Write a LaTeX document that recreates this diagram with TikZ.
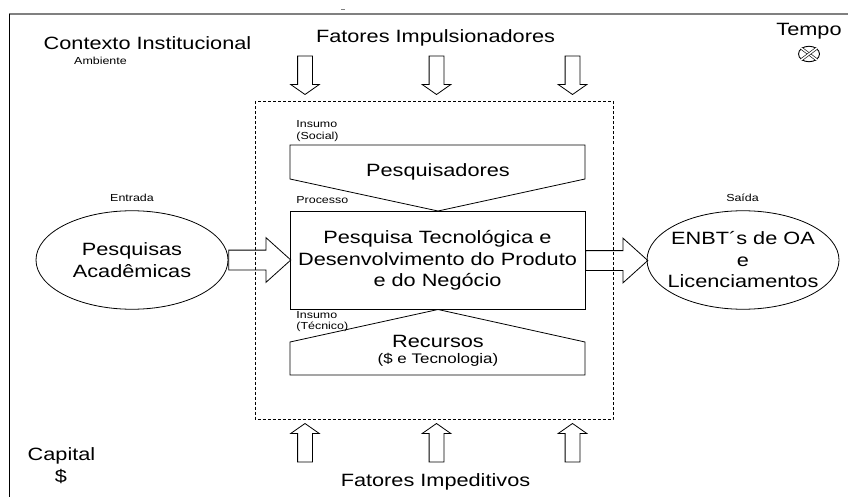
\documentclass[tikz,border=0pt]{standalone}
\usepackage{fontspec}
\setmainfont[FakeStretch=1.22]{Liberation Sans}
\usetikzlibrary{shapes.geometric}
\usetikzlibrary{shapes.arrows}
\newcommand{\bigfont}{\fontsize{17.8}{21.5}\selectfont}
\newcommand{\smallfont}{\fontsize{10.2}{11.8}\selectfont}
\begin{document}
\begin{tikzpicture}[x=1pt,y=-1pt,line width=0.8pt,
    big text/.style={font=\bigfont,align=center,inner sep=0pt},
    small text/.style={font=\smallfont,align=left,inner sep=0pt},
    main ellipse/.style={ellipse,draw,minimum width=192pt,minimum height=98.5pt,inner sep=0pt},
    main box/.style={draw,minimum width=295pt,minimum height=98.5pt,inner sep=0pt},
    thin arrow/.style={single arrow,draw,anchor=tip,inner xsep=0pt,inner ysep=7pt,minimum height=38.5pt,
      single arrow head extend=7pt,single arrow tip angle=110},
    wide arrow/.style={single arrow,draw,anchor=tail,inner xsep=0pt,inner ysep=9.5pt,minimum height=62pt,
      single arrow head extend=12.5pt,single arrow tip angle=84},
    time cross/.style={line width=0.6pt,double,double distance=1.6pt}]
    \useasboundingbox (0,0) rectangle (848,497);
    % frame
    \draw[gray,line width=1.3pt] (9,14) -- (848,14);
    \draw (9.5,14) -- (9.5,497);
    \draw[gray] (341,9) -- (345,9);
    \draw[densely dashed] (255,101.5) rectangle (613,419);

    \node[main box] (proc) at (437.5,260.5) {};
    \node[main ellipse] (ent) at (132,260) {};
    \node[main ellipse] (sai) at (743,260) {};
    \draw (290,145) -- (585,145) -- (585,179) -- (438,211) -- (290,179) -- cycle;
    \draw (290,375) -- (585,375) -- (585,342) -- (438,309.5) -- (290,342) -- cycle;

    \node[big text] (pesq) at (438,172) {Pesquisadores};
    \node[big text] (rec) at (438,341) {Recursos};
    \node[small text,font=\fontsize{13.9}{15}\selectfont] (tec) at (438,360) {(\$ e Tecnologia)};
    \node[big text] (ptext) at (proc) {Pesquisa Tecnológica e\\Desenvolvimento do Produto\\e do Negócio};
    \node[big text] (etext) at (ent) {Pesquisas\\Acadêmicas};
    \node[big text] (stext) at (sai) {ENBT´s de OA\\e\\Licenciamentos};

    \node[wide arrow] (a1) at (ent.east) {};
    \node[wide arrow] (a2) at (proc.east) {};

    \foreach \x/\n in {305/d1,436.5/d2,572.5/d3} {
      \node[thin arrow,rotate=-90] (\n) at (\x,95) {};
    }
    \foreach \x/\n in {305/u1,436.5/u2,572.5/u3} {
      \node[thin arrow,rotate=90] (\n) at (\x,423) {};
    }

    \node[big text] (ctx) at (147.5,43) {Contexto Institucional};
    \node[small text] (amb) at (100.5,61) {Ambiente};
    \node[big text] (imp) at (435.5,38) {Fatores Impulsionadores};
    \node[big text] (tempo) at (809,31) {Tempo};
    \node[ellipse,draw,minimum width=21pt,minimum height=15.5pt,inner sep=0pt,line width=0.9pt] (sym) at (809,54) {};
    \draw[time cross] (sym.north west) -- (sym.south east);
    \draw[time cross] (sym.north east) -- (sym.south west);
    \node[big text] (cap) at (61.5,456) {Capital};
    \node[big text] (din) at (61,477) {\$};
    \node[big text] (fimp) at (435.5,482) {Fatores Impeditivos};
    \node[small text,anchor=west] (ins1) at (296,131) {Insumo\\(Social)};
    \node[small text,anchor=west] (pro) at (296,200.5) {Processo};
    \node[small text,anchor=west] (ins2) at (296,321.5) {Insumo\\(Técnico)};
    \node[small text] (tent) at (132,197.5) {Entrada};
    \node[small text] (tsai) at (742.5,197.5) {Saída};
  \end{tikzpicture}
\end{document}
